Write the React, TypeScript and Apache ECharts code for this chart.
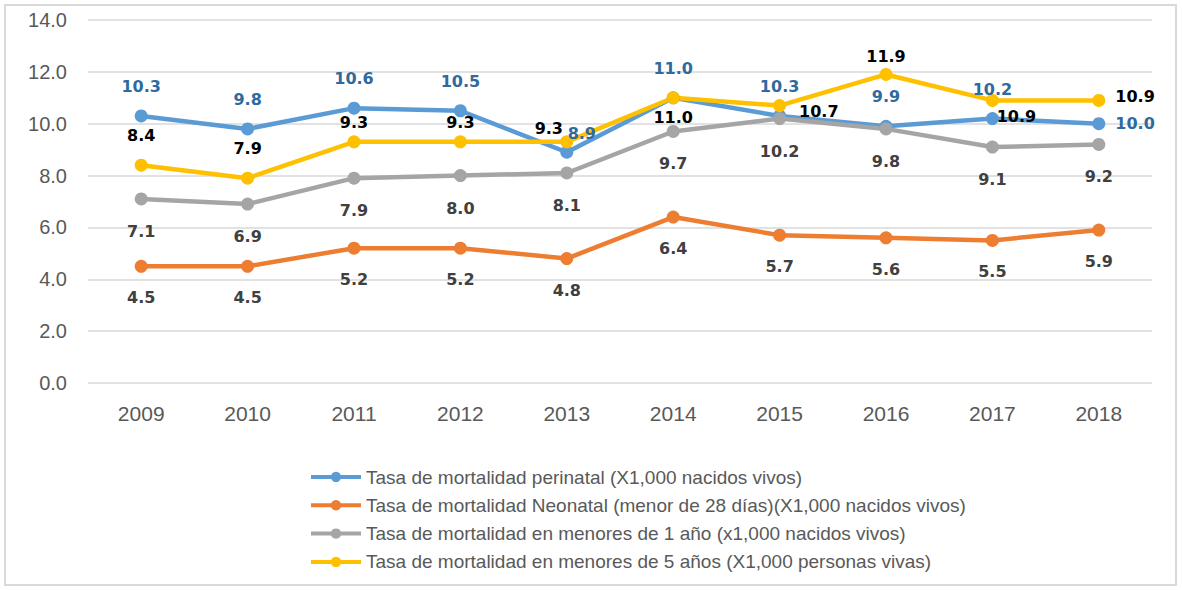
import React, { useEffect, useRef } from "react";
import * as echarts from "echarts";

const years = ["2009", "2010", "2011", "2012", "2013", "2014", "2015", "2016", "2017", "2018"];
const perinatal = [10.3, 9.8, 10.6, 10.5, 8.9, 11.0, 10.3, 9.9, 10.2, 10.0];
const neonatal = [4.5, 4.5, 5.2, 5.2, 4.8, 6.4, 5.7, 5.6, 5.5, 5.9];
const menores1 = [7.1, 6.9, 7.9, 8.0, 8.1, 9.7, 10.2, 9.8, 9.1, 9.2];
const menores5 = [8.4, 7.9, 9.3, 9.3, 9.3, 11.0, 10.7, 11.9, 10.9, 10.9];
const yTicks = [0, 2, 4, 6, 8, 10, 12, 14];

const seriesNames = [
  "Tasa de mortalidad perinatal (X1,000 nacidos vivos)",
  "Tasa de mortalidad Neonatal (menor de 28 días)(X1,000 nacidos vivos)",
  "Tasa de mortalidad en menores de 1 año (x1,000 nacidos vivos)",
  "Tasa de mortalidad en menores de 5 años (X1,000 personas vivas)",
];

// label placement per point: [position, distance, offsetX, offsetY]
type LP = [string, number, number, number];
const blueLayout: LP[] = [
  ["top", 15, 0, 0], ["top", 15, 0, 0], ["top", 15, 0, 0], ["top", 15, 0, 0],
  ["top", 15, 15, 11], ["top", 15, 0, 0], ["top", 15, 0, 0], ["top", 15, 0, 0],
  ["top", 15, 0, 0], ["right", 10, 0, 0],
];
const yellowLayout: LP[] = [
  ["top", 15, 0, 0], ["top", 15, 0, 0], ["top", 15, 0, 10], ["top", 15, 0, 10],
  ["top", 15, -18, 16], ["bottom", 5, 0, 0], ["right", 13, 0, 6], ["top", 3, 0, 0],
  ["bottom", 2, 24, 0], ["right", 10, 0, -4],
];

const labelFont = {
  fontFamily: "'DejaVu Sans', sans-serif",
  fontSize: 16,
  fontWeight: "bold" as const,
};
const axisFont = "'Liberation Sans', Arial, sans-serif";

function buildData(values: number[], layout: LP[] | null, pos: string, dist: number) {
  return values.map((v, i) => {
    const l = layout ? layout[i] : [pos, dist, 0, 0];
    return {
      value: v,
      label: {
        position: l[0],
        distance: l[1],
        offset: [l[2], l[3]],
      },
    };
  });
}

export default function App() {
  const ref = useRef<HTMLDivElement>(null);
  useEffect(() => {
    if (!ref.current) return;
    const chart = echarts.init(ref.current, null, { renderer: "svg" });
    const mk = (name: string, values: number[], color: string, labelColor: string, layout: LP[] | null, pos: string, dist: number) => ({
      name,
      type: "line",
      data: buildData(values, layout, pos, dist),
      symbol: "circle",
      symbolSize: 13,
      lineStyle: { width: 4.5, color },
      itemStyle: { color },
      label: {
        show: true,
        formatter: (p: any) => Number(p.value).toFixed(1),
        color: labelColor,
        ...labelFont,
      },
    });
    chart.setOption({
      animation: false,
      backgroundColor: "#ffffff",
      grid: { left: 88, right: 30, top: 20, bottom: 207 },
      xAxis: {
        type: "category",
        data: years,
        boundaryGap: true,
        axisLine: { show: false },
        axisTick: { show: false },
        axisLabel: {
          color: "#595959",
          fontSize: 21,
          fontFamily: axisFont,
          margin: 20,
        },
      },
      yAxis: {
        type: "value",
        min: yTicks[0],
        max: yTicks[yTicks.length - 1],
        interval: yTicks[1] - yTicks[0],
        axisLine: { show: false },
        axisTick: { show: false },
        axisLabel: {
          color: "#595959",
          fontSize: 20,
          fontFamily: axisFont,
          margin: 21,
          formatter: (v: number) => v.toFixed(1),
        },
        splitLine: { lineStyle: { color: "#D9D9D9", width: 1.5 } },
      },
      legend: {
        orient: "vertical",
        left: 304,
        top: 462,
        itemWidth: 50,
        itemHeight: 13,
        itemGap: 8.3,
        lineStyle: { width: 4 },
        textStyle: {
          color: "#595959",
          fontSize: 19,
          lineHeight: 20,
          fontFamily: axisFont,
        },
        data: seriesNames,
      },
      graphic: [
        {
          type: "rect",
          shape: { x: 5, y: 5, width: 1171, height: 580 },
          style: { fill: "none", stroke: "#D9D9D9", lineWidth: 2 },
          silent: true,
        },
      ],
      series: [
        mk(seriesNames[0], perinatal, "#5B9BD5", "#2F6A9E", blueLayout, "top", 15),
        mk(seriesNames[1], neonatal, "#ED7D31", "#404040", null, "bottom", 17),
        mk(seriesNames[2], menores1, "#A5A5A5", "#404040", null, "bottom", 18),
        mk(seriesNames[3], menores5, "#FFC000", "#000000", yellowLayout, "top", 15),
      ],
    });
    return () => chart.dispose();
  }, []);
  return (
    <div
      ref={ref}
      style={{ position: "absolute", left: 0, top: 0, width: 1182, height: 590 }}
    />
  );
}
